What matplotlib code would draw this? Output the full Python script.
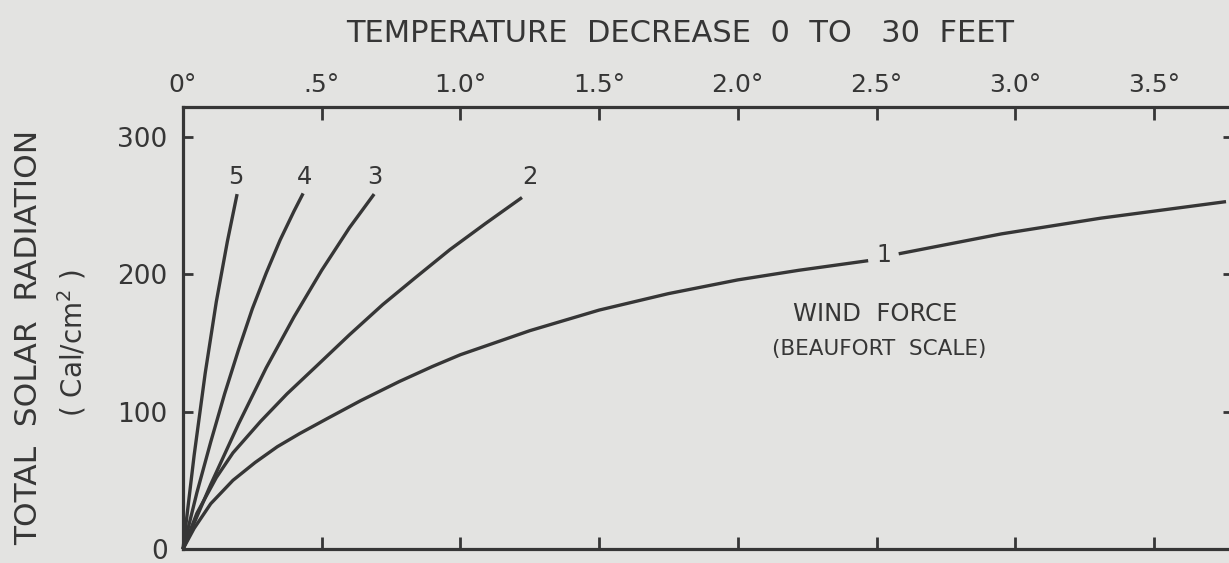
import numpy as np
import matplotlib.pyplot as plt

# temperature decrease (deg) vs total solar radiation (cal/cm2), one curve per Beaufort force
force5_temp = [0, 0.04, 0.08, 0.12, 0.16, 0.195]
force5_rad = [0, 68, 128, 180, 224, 258.5]
force4_temp = [0, 0.05, 0.1, 0.15, 0.2, 0.25, 0.3, 0.35, 0.4, 0.433]
force4_rad = [0, 41, 78, 113, 145, 175, 201, 225, 246, 259]
force3_temp = [0, 0.1, 0.2, 0.3, 0.4, 0.5, 0.6, 0.689]
force3_rad = [0, 47, 91, 132, 169, 203, 234, 258.5]
force2_temp = [0, 0.05, 0.12, 0.18, 0.28, 0.375, 0.48, 0.6, 0.72, 0.84, 0.962,
               1.09, 1.222]
force2_rad = [0, 26, 52, 70, 93, 113, 133, 156, 178, 198, 218, 237, 256]
# force 1 is broken where its label sits
force1_temp_a = [0, 0.04, 0.1, 0.18, 0.26, 0.34, 0.42, 0.52, 0.64, 0.78, 0.9,
                 1.0, 1.25, 1.5, 1.75, 2.0, 2.22, 2.47]
force1_rad_a = [0, 15, 33, 50, 63, 74.5, 84, 95, 108, 122, 133, 141.5, 159, 174,
                186, 196, 203, 210]
force1_temp_b = [2.58, 2.95, 3.31, 3.76]
force1_rad_b = [215, 229.5, 241, 253]

label_temp = {'5': 0.19, '4': 0.44, '3': 0.69, '2': 1.25}

temp_ticks = [0, 0.5, 1.0, 1.5, 2.0, 2.5, 3.0, 3.5]
temp_labels = ['0°', '.5°', '1.0°', '1.5°', '2.0°', '2.5°', '3.0°', '3.5°']
rad_ticks = [0, 100, 200, 300]

ink = '#363636'
paper = '#e3e3e1'

fig = plt.figure(figsize=(12.29, 5.63), dpi=100, facecolor=paper)
ax = fig.add_axes([183 / 1229, 14 / 563, 1050 / 1229, 442 / 563])
ax.set_facecolor(paper)

ax.set_xlim(0, 1050 / 277.4)
ax.set_ylim(0, 442 / 1.373)

lw = 2.4
for t, r in [(force5_temp, force5_rad), (force4_temp, force4_rad),
             (force3_temp, force3_rad), (force2_temp, force2_rad),
             (force1_temp_a, force1_rad_a), (force1_temp_b, force1_rad_b)]:
    ax.plot(t, r, color=ink, lw=lw, solid_capstyle='butt',
            solid_joinstyle='round', clip_on=False)

# curve numbers above the upper ends
for lab, x in label_temp.items():
    ax.text(x, 271, lab, ha='center', va='center', fontsize=17.5, color=ink)
ax.text((force1_temp_a[-1] + force1_temp_b[0]) / 2, 214, '1', ha='center',
        va='center', fontsize=17, color=ink)

ax.text(2.495, 171.5, 'WIND  FORCE', ha='center', va='center', fontsize=17.5,
        color=ink)
ax.text(2.51, 146, '(BEAUFORT  SCALE)', ha='center', va='center', fontsize=15.5,
        color=ink)

for s in ax.spines.values():
    s.set_color(ink)
    s.set_linewidth(2.3)

ax.set_xticks(temp_ticks)
ax.set_xticklabels(temp_labels)
ax.xaxis.set_ticks_position('both')
ax.tick_params(axis='x', direction='in', length=9, width=2, color=ink,
               labeltop=True, labelbottom=False, labelsize=18, labelcolor=ink,
               pad=7)
ax.set_yticks(rad_ticks)
ax.yaxis.set_ticks_position('both')
ax.tick_params(axis='y', direction='in', length=7, width=2, color=ink,
               labelleft=True, labelright=False, labelsize=19, labelcolor=ink,
               pad=11)

fig.text(0.553, 1 - 34 / 563, 'TEMPERATURE  DECREASE  0  TO   30  FEET',
         ha='center', va='center', fontsize=22, color=ink)
fig.text(29 / 1229, 1 - 337 / 563, 'TOTAL  SOLAR  RADIATION', rotation=90,
         ha='center', va='center', fontsize=22.5, color=ink)
fig.text(72 / 1229, 1 - 343 / 563, '( Cal/cm$^2$ )', rotation=90,
         ha='center', va='center', fontsize=20, color=ink)

fig.savefig('out.png', dpi=100, facecolor=paper)
